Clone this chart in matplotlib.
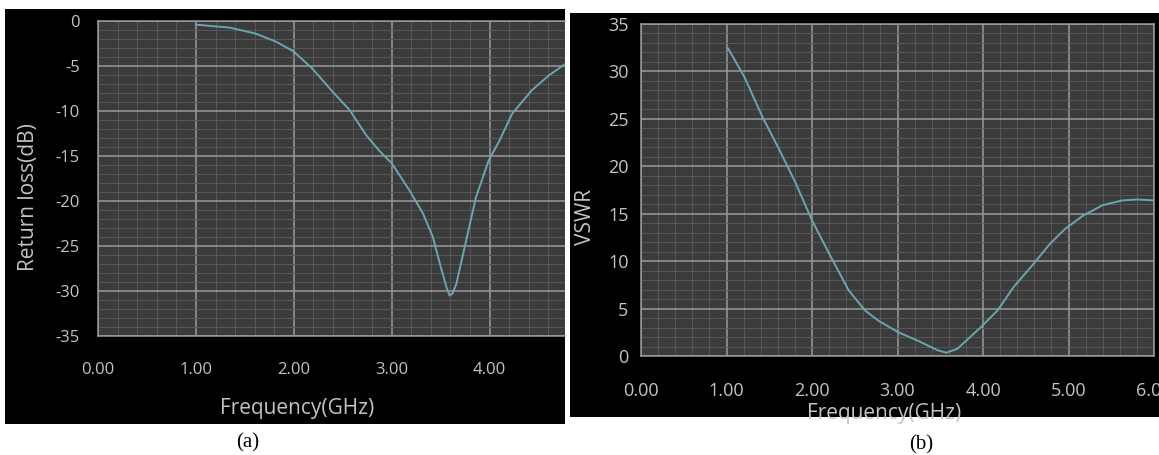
import matplotlib

matplotlib.use("Agg")

from matplotlib import pyplot as plt
from matplotlib.patches import Rectangle
from matplotlib.ticker import MultipleLocator

# (a) return loss
FREQ_A = [1.00, 1.35, 1.61, 1.82, 2.00, 2.19, 2.40, 2.57, 2.74, 2.88, 3.00, 3.18,
          3.32, 3.42, 3.50, 3.56, 3.59, 3.62, 3.66, 3.76, 3.86, 3.99, 4.10, 4.23,
          4.43, 4.61, 4.77]
RL_A = [-0.4, -0.74, -1.4, -2.3, -3.4, -5.3, -7.9, -9.9, -12.7, -14.5, -15.8, -18.8,
        -21.4, -24.0, -27.3, -29.6, -30.5, -30.3, -29.2, -24.4, -19.6, -15.5, -13.3,
        -10.3, -7.7, -6.0, -4.8]

# (b) VSWR
FREQ_B = [1.02, 1.21, 1.42, 1.62, 1.81, 2.00, 2.20, 2.43, 2.62, 2.78, 3.01, 3.24,
          3.47, 3.57, 3.70, 3.97, 4.17, 4.36, 4.59, 4.78, 4.96, 5.17, 5.40, 5.63,
          5.80, 6.00]
VSWR_B = [32.4, 29.4, 25.2, 21.7, 18.2, 14.3, 10.8, 6.9, 4.8, 3.7, 2.5, 1.6,
          0.6, 0.34, 0.76, 3.0, 4.8, 7.3, 9.7, 11.8, 13.4, 14.8, 15.9, 16.4,
          16.5, 16.4]

BG = "#3b3b3b"
MAJOR = "#9a9a9a"
MINOR = "#575757"
TEXT = "#c4c4c4"
LINE = "#6aa6b2"
FONT = ["Open Sans", "DejaVu Sans"]


def style(ax, xmax, ymin, ymax, ytick_pad, xtick_pad, tick_size):
    ax.set_facecolor(BG)
    ax.set_xlim(0, xmax)
    ax.set_ylim(ymin, ymax)
    ax.xaxis.set_major_locator(MultipleLocator(1))
    ax.xaxis.set_minor_locator(MultipleLocator(0.2))
    ax.yaxis.set_major_locator(MultipleLocator(5))
    ax.yaxis.set_minor_locator(MultipleLocator(1))
    ax.grid(which="minor", color=MINOR, linewidth=0.7)
    ax.grid(which="major", color=MAJOR, linewidth=1.1)
    ax.set_axisbelow(True)
    ax.tick_params(which="both", length=0, colors=TEXT, labelsize=tick_size)
    ax.tick_params(axis="y", pad=ytick_pad)
    ax.tick_params(axis="x", pad=xtick_pad)
    for side in ax.spines.values():
        side.set_color(MAJOR)
        side.set_linewidth(1.1)
    for lbl in ax.get_xticklabels() + ax.get_yticklabels():
        lbl.set_family(FONT)


fig = plt.figure(figsize=(11.59, 4.55), dpi=100)
fig.patch.set_facecolor("white")
fig.add_artist(Rectangle((0.0047, 0.068), 0.4828, 0.912, transform=fig.transFigure,
                         facecolor="black", edgecolor="none", zorder=0))
fig.add_artist(Rectangle((0.4918, 0.0835), 0.5082, 0.888, transform=fig.transFigure,
                         facecolor="black", edgecolor="none", zorder=0))

ax1 = fig.add_axes([0.0846, 0.2615, 0.4029, 0.6923])
ax1.plot(FREQ_A, RL_A, color=LINE, linewidth=1.4)
ax1.set_xticks([0, 1, 2, 3, 4], ["0.00", "1.00", "2.00", "3.00", "4.00"])
ax1.set_yticks(range(-35, 1, 5), [str(v) for v in range(-35, 1, 5)])
style(ax1, 4.77, -35, 0, 13, 19, 12)
ax1.spines["right"].set_visible(False)
ax1.set_xlabel("Frequency(GHz)", color=TEXT, fontsize=15, family=FONT, va="center")
ax1.set_ylabel("Return loss(dB)", color=TEXT, fontsize=15, family=FONT, va="center")
ax1.xaxis.set_label_coords(0.426, -0.229)
ax1.yaxis.set_label_coords(-0.150, 0.441)

ax2 = fig.add_axes([0.5531, 0.2176, 0.4426, 0.7297])
ax2.plot(FREQ_B, VSWR_B, color=LINE, linewidth=1.4)
ax2.set_xticks([0, 1, 2, 3, 4, 5, 6], ["0.00", "1.00", "2.00", "3.00", "4.00", "5.00", "6.00"])
ax2.set_yticks(range(0, 36, 5), [str(v) for v in range(0, 36, 5)])
style(ax2, 6.0, 0, 35, 9, 19, 13)
ax2.set_xlabel("Frequency(GHz)", color=TEXT, fontsize=15, family=FONT, va="center")
ax2.set_ylabel("VSWR", color=TEXT, fontsize=15, family=FONT, va="center")
ax2.xaxis.set_label_coords(0.474, -0.172)
ax2.yaxis.set_label_coords(-0.109, 0.419)

fig.text(0.214, 0.026, "(a)", family="Liberation Serif", fontsize=15, ha="center", va="center")
fig.text(0.795, 0.022, "(b)", family="Liberation Serif", fontsize=15, ha="center", va="center")

fig.savefig("out.png", dpi=100)
